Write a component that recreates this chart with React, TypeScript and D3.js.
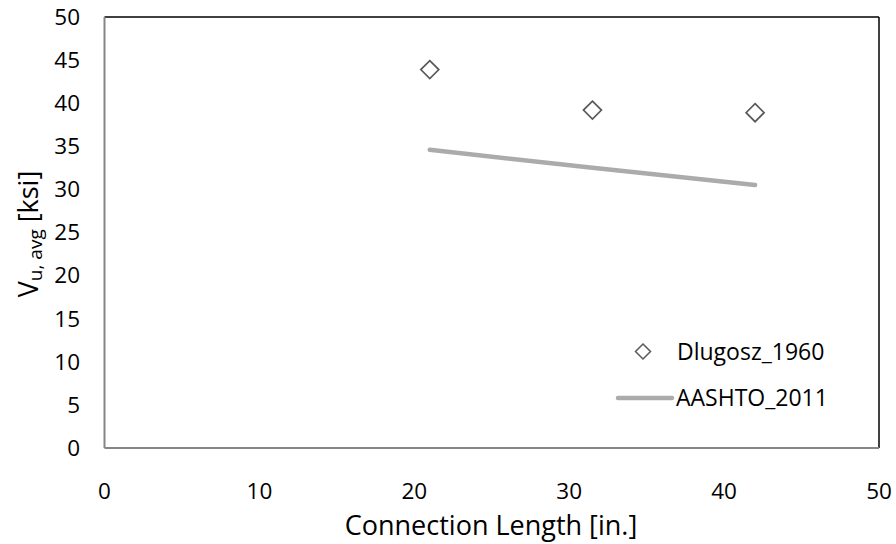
import React from "react";
import * as d3 from "d3";

const dlugoszX = [21, 31.5, 42];
const dlugoszY = [43.9, 39.2, 38.9];
const aashtoX = [21, 31.5, 42];
const aashtoY = [34.6, 32.5, 30.5];
const xTicks = [0, 10, 20, 30, 40, 50];
const yTicks = [0, 5, 10, 15, 20, 25, 30, 35, 40, 45, 50];

const W = 896, H = 544;
const L = 104.5, R = 879, T = 17, B = 448;
const font = "'Open Sans', sans-serif";

export default function App() {
  const x = d3.scaleLinear().domain([0, 50]).range([L, R]);
  const y = d3.scaleLinear().domain([0, 50]).range([B, T]);
  const line = d3.line<number>().x((d, i) => x(aashtoX[i])).y((d) => y(d));
  const diamond = (cx: number, cy: number, r = 9) =>
    `M${cx},${cy - r}L${cx + r},${cy}L${cx},${cy + r}L${cx - r},${cy}Z`;
  return (
    <svg width={W} height={H} style={{ position: "absolute", left: 0, top: 0 }} fontFamily={font}>
      <rect x={0} y={0} width={W} height={H} fill="#fff" />
      <line x1={L} y1={T} x2={R} y2={T} stroke="#000" strokeWidth={1.5} />
      <line x1={R} y1={T} x2={R} y2={B} stroke="#000" strokeWidth={1.5} />
      <line x1={L} y1={T} x2={L} y2={B} stroke="#868686" strokeWidth={2} />
      <line x1={L} y1={B} x2={R} y2={B} stroke="#868686" strokeWidth={2} />
      {yTicks.map((t) => (
        <text key={"y" + t} x={80} y={y(t)} dy="0.35em" textAnchor="end" fontSize={22.5} fill="#000">{t}</text>
      ))}
      {xTicks.map((t) => (
        <text key={"x" + t} x={x(t)} y={491} dy="0.35em" textAnchor="middle" fontSize={22.5} fill="#000">{t}</text>
      ))}
      <text x={491} y={526} dy="0.35em" textAnchor="middle" fontSize={27} fill="#000">Connection Length [in.]</text>
      <text transform={`translate(38,234) rotate(-90)`} textAnchor="middle" fontSize={27} fill="#000">
        V<tspan fontSize={19} dy={4}>u, avg</tspan><tspan dy={-4}> [ksi]</tspan>
      </text>
      <path d={line(aashtoY) || ""} fill="none" stroke="#ababab" strokeWidth={4.5} strokeLinecap="round" />
      {dlugoszX.map((v, i) => (
        <path key={"d" + i} d={diamond(x(v), y(dlugoszY[i]))} fill="none" stroke="#595959" strokeWidth={1.7} />
      ))}
      <path d={diamond(643, 351.5, 7.5)} fill="none" stroke="#595959" strokeWidth={1.5} />
      <text x={677} y={351.5} dy="0.35em" fontSize={23} fill="#000">Dlugosz_1960</text>
      <line x1={618} y1={398} x2={672} y2={398} stroke="#ababab" strokeWidth={4.5} strokeLinecap="round" />
      <text x={676} y={398} dy="0.35em" fontSize={23} fill="#000">AASHTO_2011</text>
    </svg>
  );
}
